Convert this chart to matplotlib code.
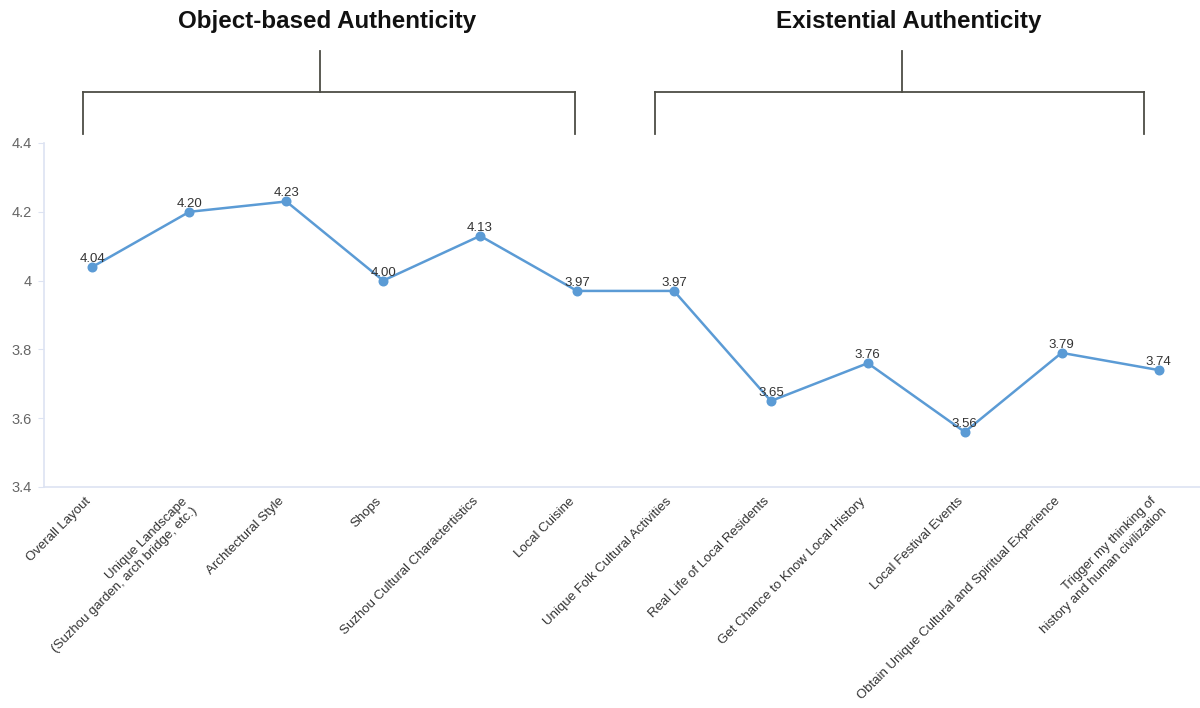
import matplotlib
matplotlib.use("Agg")
import matplotlib.pyplot as plt
from matplotlib.lines import Line2D
import matplotlib.transforms as mtransforms

categories = [
    "Overall Layout",
    "Unique Landscape\n(Suzhou garden, arch bridge, etc.)",
    "Archtectural Style",
    "Shops",
    "Suzhou Cultural Charactertistics",
    "Local Cuisine",
    "Unique Folk Cultural Activities",
    "Real Life of Local Residents",
    "Get Chance to Know Local History",
    "Local Festival Events",
    "Obtain Unique Cultural and Spiritual Experience",
    "Trigger my thinking of\nhistory and human civilization",
]
values = [4.04, 4.20, 4.23, 4.00, 4.13, 3.97, 3.97, 3.65, 3.76, 3.56, 3.79, 3.74]
yticks = [3.4, 3.6, 3.8, 4.0, 4.2, 4.4]
ytick_labels = ["3.4", "3.6", "3.8", "4", "4.2", "4.4"]
group_names = ["Object-based Authenticity", "Existential Authenticity"]
group_start = [0, 6]
group_end = [5, 11]

plt.rcParams['font.family'] = ['Liberation Sans', 'DejaVu Sans']

W, H = 1200, 708
fig = plt.figure(figsize=(W / 100, H / 100), dpi=100)
left, right, top, bottom = 44, 1207, 143, 487
ax = fig.add_axes([left / W, 1 - bottom / H, (right - left) / W, (bottom - top) / H])

x = list(range(len(values)))
line_color = "#5b9bd5"
ax.plot(x, values, color=line_color, lw=1.8, marker="o", ms=6.2, mec=line_color, mfc=line_color, zorder=3)
for xi, v in zip(x, values):
    ax.annotate(f"{v:.2f}", (xi, v), xytext=(0, 1.5), textcoords="offset points",
                ha="center", va="bottom", fontsize=9.5, color="#333333", zorder=4)

ax.set_xlim(-0.5, len(values) - 0.5)
ax.set_ylim(3.4, 4.4)
ax.set_yticks(yticks)
ax.set_yticklabels(ytick_labels)
ax.set_xticks(x)
ax.set_xticklabels([])

trans = mtransforms.blended_transform_factory(ax.transData, ax.transAxes)
for xi, lab in zip(x, categories):
    ax.annotate(lab, xy=(xi, 0), xycoords=trans, xytext=(-5.8, -6), textcoords="offset points",
                rotation=45, ha="right", va="top", rotation_mode="anchor",
                multialignment="right", fontsize=9.5, color="#333333", annotation_clip=False)

for s in ["top", "right"]:
    ax.spines[s].set_visible(False)
for s in ["left", "bottom"]:
    ax.spines[s].set_color("#dde3f2")
    ax.spines[s].set_linewidth(1.2)
ax.tick_params(axis="y", colors="#dde3f2", labelcolor="#666666", labelsize=10.5, length=4, pad=5)
ax.tick_params(axis="x", length=0)

# group brackets (x in data, y in axes coords)
bcol = "#4d4d45"
left_pad = [0.1, 0.2]
right_pad = [0.02, 0.15]
y_low, y_mid, y_top, y_title = 1.026, 1.148, 1.267, 1.352
for name, s, e, lp, rp in zip(group_names, group_start, group_end, left_pad, right_pad):
    xs, xe = s - lp, e - rp
    xm = (s + e) / 2 - 0.15
    for xx, yy in [([xs, xe], [y_mid, y_mid]), ([xs, xs], [y_low, y_mid]),
                   ([xe, xe], [y_low, y_mid]), ([xm, xm], [y_mid, y_top])]:
        ax.add_artist(Line2D(xx, yy, transform=trans, color=bcol, lw=1.3, clip_on=False))
    ax.text((s + e) / 2 - 0.08, y_title, name, transform=trans, ha="center", va="center",
            fontsize=17.4, fontweight="bold", color="#111111")

fig.savefig("out.png", dpi=100)
